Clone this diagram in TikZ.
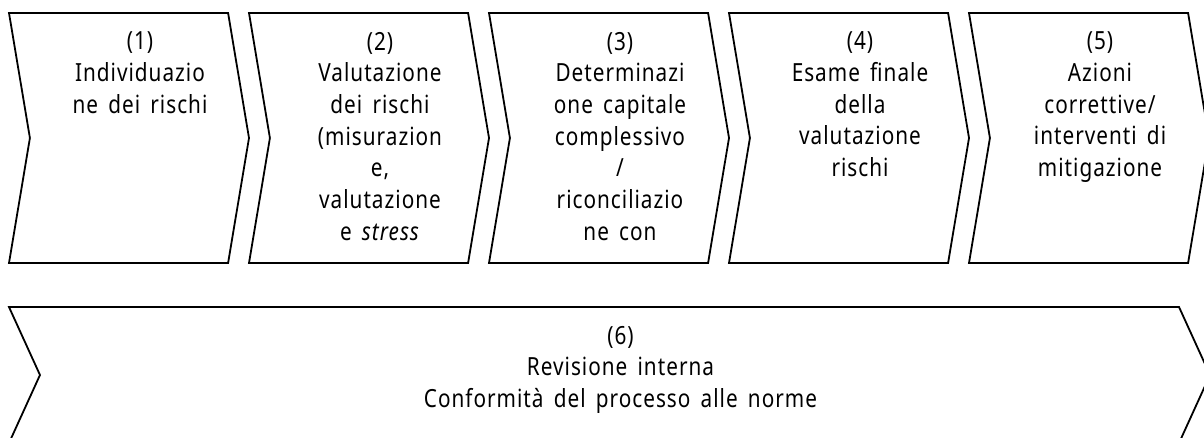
\documentclass[tikz,border=0pt]{standalone}
\usepackage{fontspec}
\setmainfont{Noto Sans}[FakeStretch=0.83,WordSpace=1.6,LetterSpace=4]
\usetikzlibrary{shapes.symbols,positioning,calc}

\begin{document}
\begin{tikzpicture}[x=1pt,y=-1pt,node distance=240pt,line width=1.8pt,
  chevron/.style={draw,signal,signal from=west,signal to=east,signal pointer angle=161,
    minimum width=240pt,minimum height=250pt,inner sep=0pt,outer sep=0pt},
  steptext/.style={anchor=north,align=center,inner sep=0pt,font=\fontsize{25}{31.7}\selectfont}]
		\path[use as bounding box] (0,0) rectangle (1204,437);
		\clip (0,0) rectangle (1204,437);

		\node[chevron] (s1) at (129,138) {};
		\node[chevron] (s2) [right of=s1] {};
		\node[chevron] (s3) [right of=s2] {};
		\node[chevron] (s4) [right of=s3] {};
		\node[chevron] (s5) [right of=s4] {};
		\node[chevron,minimum width=1201pt,minimum height=136pt,signal pointer angle=131] (s6) at (609.5,375) {};

		\node[steptext] (t1) at ($(s1.north)+(11,18)$) {(1)\\Individuazio\\ne dei rischi};
		\node[steptext] (t2) at ($(s2.north)+(11,18)$) {(2)\\Valutazione\\dei rischi\\(misurazion\\e,\\valutazione\\e \textit{stress}};
		\node[steptext] (t3) at ($(s3.north)+(11,18)$) {(3)\\Determinazi\\one capitale\\complessivo\\/\\riconciliazio\\ne con};
		\node[steptext] (t4) at ($(s4.north)+(11,18)$) {(4)\\Esame finale\\della\\valutazione\\rischi};
		\node[steptext] (t5) at ($(s5.north)+(11,18)$) {(5)\\Azioni\\correttive/\\interventi di\\mitigazione};
		\node[steptext] (t6) at ($(s6.north)+(11,18)$) {(6)\\Revisione interna\\Conformità del processo alle norme};
\end{tikzpicture}
\end{document}
